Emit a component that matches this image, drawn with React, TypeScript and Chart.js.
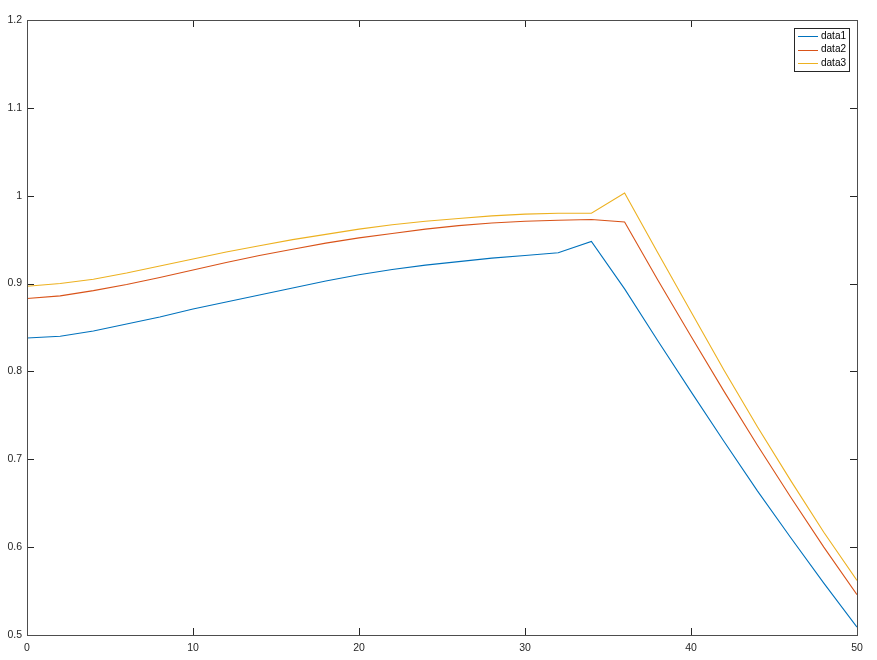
import React, { useEffect, useRef } from "react";
import { Chart, registerables } from "chart.js";

Chart.register(...registerables);

const xValues = [0, 2, 4, 6, 8, 10, 12, 14, 16, 18, 20, 22, 24, 26, 28, 30, 32, 34, 36, 38, 40, 42, 44, 46, 48, 50];
const data1 = [0.838, 0.840, 0.846, 0.854, 0.862, 0.871, 0.879, 0.887, 0.895, 0.903, 0.910, 0.916, 0.921, 0.925, 0.929, 0.932, 0.935, 0.948, 0.894, 0.835, 0.777, 0.720, 0.664, 0.611, 0.559, 0.509];
const data2 = [0.883, 0.886, 0.892, 0.899, 0.907, 0.9155, 0.924, 0.932, 0.939, 0.946, 0.952, 0.957, 0.962, 0.966, 0.969, 0.971, 0.972, 0.973, 0.970, 0.904, 0.840, 0.777, 0.716, 0.657, 0.600, 0.546];
const data3 = [0.897, 0.900, 0.905, 0.912, 0.920, 0.928, 0.936, 0.943, 0.950, 0.956, 0.962, 0.967, 0.971, 0.974, 0.977, 0.979, 0.980, 0.980, 1.003, 0.935, 0.868, 0.801, 0.737, 0.676, 0.617, 0.562];
const seriesLabels = ["data1", "data2", "data3"];
const seriesColors = ["#0072BD", "#D95319", "#EDB120"];
const xTicks = [0, 10, 20, 30, 40, 50];
const yTicks = [0.5, 0.6, 0.7, 0.8, 0.9, 1.0, 1.1, 1.2];

const FONT = "'Liberation Sans', Arial, sans-serif";

const boxPlugin = {
  id: "boxPlugin",
  afterDraw(chart: any) {
    const { ctx, chartArea } = chart;
    const { left, right, top, bottom } = chartArea;
    const xs = chart.scales.x;
    const ys = chart.scales.y;
    ctx.save();
    ctx.strokeStyle = "#262626";
    ctx.lineWidth = 1;
    const tl = 7;
    ctx.beginPath();
    xTicks.forEach((t) => {
      const px = Math.round(xs.getPixelForValue(t)) + 0.5;
      ctx.moveTo(px, bottom);
      ctx.lineTo(px, bottom - tl);
      ctx.moveTo(px, top);
      ctx.lineTo(px, top + tl);
    });
    yTicks.forEach((t) => {
      const py = Math.round(ys.getPixelForValue(t)) + 0.5;
      ctx.moveTo(left, py);
      ctx.lineTo(left + tl, py);
      ctx.moveTo(right, py);
      ctx.lineTo(right - tl, py);
    });
    ctx.stroke();
    ctx.strokeStyle = "#4d4d4d";
    ctx.strokeRect(Math.round(left) + 0.5, Math.round(top) + 0.5, Math.round(right - left), Math.round(bottom - top));

    // legend
    const bx = 794.5, by = 28.5, bw = 55, bh = 43;
    ctx.fillStyle = "#ffffff";
    ctx.fillRect(bx, by, bw, bh);
    ctx.strokeStyle = "#262626";
    ctx.strokeRect(bx, by, bw, bh);
    ctx.font = "10px " + FONT;
    ctx.textBaseline = "middle";
    ctx.textAlign = "left";
    chart.data.datasets.forEach((ds: any, i: number) => {
      const yy = 36 + i * 13.5;
      ctx.strokeStyle = ds.borderColor;
      ctx.beginPath();
      ctx.moveTo(798, Math.round(yy) + 0.5);
      ctx.lineTo(818, Math.round(yy) + 0.5);
      ctx.stroke();
      ctx.fillStyle = "#000";
      ctx.fillText(ds.label, 821, yy);
    });
    ctx.restore();
  },
};

export default function App() {
  const ref = useRef<HTMLCanvasElement | null>(null);
  useEffect(() => {
    if (!ref.current) return;
    const series = [data1, data2, data3];
    const chart = new Chart(ref.current, {
      type: "line",
      data: {
        datasets: series.map((s, i) => ({
          label: seriesLabels[i],
          data: xValues.map((x, j) => ({ x, y: s[j] })),
          borderColor: seriesColors[i],
          backgroundColor: seriesColors[i],
          borderWidth: 1.1,
          pointRadius: 0,
          tension: 0,
          fill: false,
        })),
      },
      options: {
        responsive: false,
        animation: false,
        layout: { padding: { top: 20, right: 20, left: 0, bottom: 0 } },
        plugins: { legend: { display: false }, tooltip: { enabled: false } },
        scales: {
          x: {
            type: "linear",
            min: 0,
            max: 50,
            afterBuildTicks: (s: any) => {
              s.ticks = xTicks.map((v) => ({ value: v }));
            },
            afterFit: (s: any) => {
              s.height = 25;
            },
            grid: { display: false, drawTicks: false },
            border: { display: false },
            ticks: {
              color: "#262626",
              font: { family: FONT, size: 10.5 },
              padding: 7,
              maxRotation: 0,
              callback: (v: any) => String(v),
            },
          },
          y: {
            type: "linear",
            min: 0.5,
            max: 1.2,
            afterBuildTicks: (s: any) => {
              s.ticks = yTicks.map((v) => ({ value: v }));
            },
            afterFit: (s: any) => {
              s.width = 27;
            },
            grid: { display: false, drawTicks: false },
            border: { display: false },
            ticks: {
              color: "#262626",
              font: { family: FONT, size: 10.5 },
              padding: 5,
              callback: (v: any) => String(Number(Number(v).toFixed(1))),
            },
          },
        },
      },
      plugins: [boxPlugin],
    });
    return () => chart.destroy();
  }, []);
  return (
    <div style={{ position: "fixed", left: 0, top: 0, width: 877, height: 660, background: "#fff" }}>
      <canvas ref={ref} width={877} height={660} style={{ width: 877, height: 660, display: "block" }} />
    </div>
  );
}
